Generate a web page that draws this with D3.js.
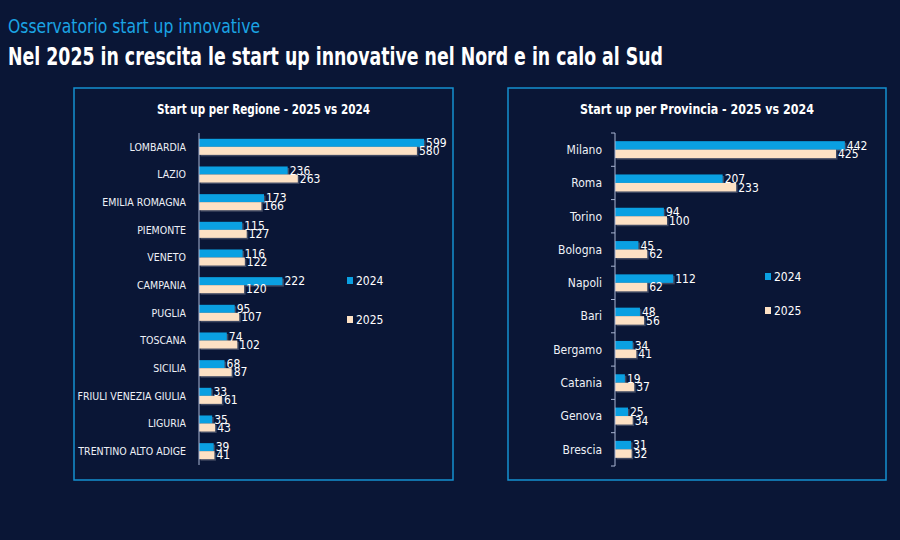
<!DOCTYPE html>
<html>
<head>
<meta charset="utf-8">
<script src="https://cdn.jsdelivr.net/npm/d3@7"></script>
<style>
    body { margin: 0; background: #0a1636; }
    svg text { font-family: "DejaVu Sans Condensed", "DejaVu Sans", sans-serif; font-stretch: condensed; }
</style>
</head>
<body>
<div id="chart"></div>
<script>
// data
var regioni = ["LOMBARDIA", "LAZIO", "EMILIA ROMAGNA", "PIEMONTE", "VENETO", "CAMPANIA", "PUGLIA",
    "TOSCANA", "SICILIA", "FRIULI VENEZIA GIULIA", "LIGURIA", "TRENTINO ALTO ADIGE"];
var regioni2024 = [599, 236, 173, 115, 116, 222, 95, 74, 68, 33, 35, 39];
var regioni2025 = [580, 263, 166, 127, 122, 120, 107, 102, 87, 61, 43, 41];

var province = ["Milano", "Roma", "Torino", "Bologna", "Napoli", "Bari", "Bergamo", "Catania", "Genova", "Brescia"];
var province2024 = [442, 207, 94, 45, 112, 48, 34, 19, 25, 31];
var province2025 = [425, 233, 100, 62, 62, 56, 41, 37, 34, 32];

var serie = ["2024", "2025"];
var serieColor = d3.scaleOrdinal().domain(serie).range(["#0aa0e2", "#fde1c4"]);

var width = 900, height = 540;

var svg = d3.select("#chart").append("svg")
    .attr("width", width)
    .attr("height", height);

svg.append("rect")
    .attr("width", width)
    .attr("height", height)
    .attr("fill", "#0a1636");

// the original font is narrower than anything installed, so squeeze the headings to its width
svg.append("text")
    .attr("x", 8)
    .attr("y", 33)
    .attr("fill", "#1ba4e4")
    .attr("textLength", 252)
    .attr("lengthAdjust", "spacingAndGlyphs")
    .style("font-size", "20px")
    .text("Osservatorio start up innovative");

svg.append("text")
    .attr("x", 8)
    .attr("y", 65)
    .attr("fill", "#ffffff")
    .attr("textLength", 655)
    .attr("lengthAdjust", "spacingAndGlyphs")
    .style("font-size", "25px")
    .style("font-weight", "bold")
    .text("Nel 2025 in crescita le start up innovative nel Nord e in calo al Sud");


drawPanel({
    x: 74, y: 88, w: 379, h: 392,
    title: "Start up per Regione - 2025 vs 2024", titleW: 213,
    cats: regioni, v2024: regioni2024, v2025: regioni2025,
    axisX: 199, top: 133, bottom: 465,
    max: 700, maxPx: 263,
    padding: 0.42, ticks: false,
    catFont: "10.5px",
    legendX: 347, legendY: [281, 320]
});

drawPanel({
    x: 508, y: 88, w: 378, h: 392,
    title: "Start up per Provincia - 2025 vs 2024", titleW: 234,
    cats: province, v2024: province2024, v2025: province2025,
    axisX: 615, top: 133, bottom: 466,
    max: 500, maxPx: 260,
    padding: 0.49, ticks: true,
    catFont: "12px",
    legendX: 765, legendY: [277, 311]
});


function drawPanel(p) {

    var g = svg.append("g");

    g.append("rect")
        .attr("x", p.x)
        .attr("y", p.y)
        .attr("width", p.w)
        .attr("height", p.h)
        .attr("fill", "#0a1636")
        .attr("stroke", "#1590d0")
        .attr("stroke-width", 1.5);

    g.append("text")
        .attr("x", p.x + p.w / 2 - p.titleW / 2)
        .attr("y", p.y + 26)
        .attr("fill", "#ffffff")
        .attr("textLength", p.titleW)
        .attr("lengthAdjust", "spacingAndGlyphs")
        .style("font-size", "14.5px")
        .style("font-weight", "bold")
        .text(p.title);

    var rows = p.cats.map(function (c, i) {
        return {cat: c, "2024": p.v2024[i], "2025": p.v2025[i]};
    });

    var xScale = d3.scaleLinear().domain([0, p.max]).range([p.axisX, p.axisX + p.maxPx]);
    var yScale = d3.scaleBand()
        .domain(p.cats)
        .range([p.top, p.bottom])
        .paddingInner(p.padding)
        .paddingOuter(p.padding / 2);
    var ySub = d3.scaleBand().domain(serie).range([0, yScale.bandwidth()]);

    var groups = g.selectAll(".cat")
        .data(rows)
        .enter()
        .append("g")
        .attr("class", "cat")
        .attr("transform", function (d) {
            return "translate(0," + yScale(d.cat) + ")";
        });

    var bars = groups.selectAll(".bar")
        .data(function (d) {
            return serie.map(function (s) {
                return {serie: s, value: d[s]};
            });
        })
        .enter();

    // soft excel-like shadow
    bars.append("rect")
        .attr("x", p.axisX + 1.5)
        .attr("y", function (d) { return ySub(d.serie) + 1.5; })
        .attr("width", function (d) { return xScale(d.value) - p.axisX; })
        .attr("height", ySub.bandwidth())
        .attr("fill", "#6b7285")
        .attr("fill-opacity", 0.55);

    bars.append("rect")
        .attr("class", "bar")
        .attr("x", p.axisX)
        .attr("y", function (d) { return ySub(d.serie); })
        .attr("width", function (d) { return xScale(d.value) - p.axisX; })
        .attr("height", ySub.bandwidth())
        .attr("fill", function (d) { return serieColor(d.serie); });

    bars.append("text")
        .attr("x", function (d) { return xScale(d.value) + 2; })
        .attr("y", function (d) { return ySub(d.serie) + ySub.bandwidth() / 2; })
        .attr("dy", "0.36em")
        .attr("fill", "#ffffff")
        .style("font-size", "12px")
        .text(function (d) { return d.value; });

    groups.append("text")
        .attr("x", p.axisX - 13)
        .attr("y", yScale.bandwidth() / 2)
        .attr("dy", "0.36em")
        .attr("text-anchor", "end")
        .attr("fill", "#eef1f7")
        .style("font-size", p.catFont)
        .text(function (d) { return d.cat; });

    // category axis
    g.append("line")
        .attr("x1", p.axisX)
        .attr("x2", p.axisX)
        .attr("y1", p.top)
        .attr("y2", p.bottom)
        .attr("stroke", "#a9b5d3")
        .attr("stroke-width", 1);

    if (p.ticks) {
        var step = yScale.step();
        var tickY = d3.range(p.cats.length + 1).map(function (i) { return p.top + i * step; });
        g.selectAll(".tick")
            .data(tickY)
            .enter()
            .append("line")
            .attr("x1", p.axisX - 4)
            .attr("x2", p.axisX)
            .attr("y1", function (d) { return d; })
            .attr("y2", function (d) { return d; })
            .attr("stroke", "#a9b5d3");
    }

    // legend
    var legend = g.selectAll(".legend")
        .data(serie)
        .enter()
        .append("g")
        .attr("transform", function (d, i) {
            return "translate(" + p.legendX + "," + p.legendY[i] + ")";
        });

    legend.append("rect")
        .attr("x", 0)
        .attr("y", -4)
        .attr("width", 6)
        .attr("height", 7)
        .attr("fill", function (d) { return serieColor(d); });

    legend.append("text")
        .attr("x", 9)
        .attr("y", 0)
        .attr("dy", "0.36em")
        .attr("fill", "#ffffff")
        .style("font-size", "12px")
        .text(function (d) { return d; });
}
</script>
</body>
</html>
